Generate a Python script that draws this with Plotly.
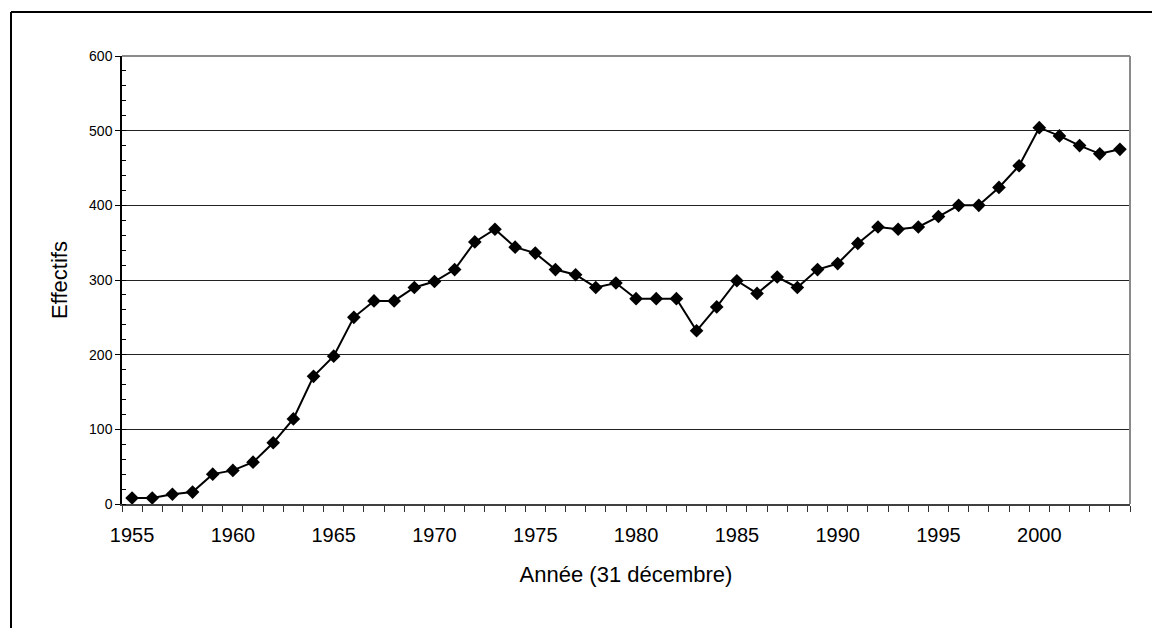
import plotly.graph_objects as go

years = list(range(1955, 2005))
effectifs = [8, 8, 13, 16, 40, 45, 56, 82, 114, 171,
             198, 250, 272, 272, 290, 298, 314, 351, 368, 344,
             336, 314, 307, 290, 296, 275, 275, 275, 232, 264,
             299, 282, 304, 290, 314, 322, 349, 371, 368, 371,
             385, 400, 400, 424, 453, 504, 493, 480, 469, 475]
label_years = [1955, 1960, 1965, 1970, 1975, 1980, 1985, 1990, 1995, 2000]
y_ticks = [0, 100, 200, 300, 400, 500, 600]

# page body has an 8px margin
OFF = 8
W, H = 1152, 620
L, R, T, B = 114, 30, 48, 124
pw, ph = W - L - R, H - T - B

def px(x):
    return (x - OFF - L) / pw

def py(y):
    return (H - B - (y - OFF)) / ph

fig = go.Figure()
fig.add_trace(go.Scatter(
    x=years, y=effectifs, mode="lines+markers",
    line=dict(color="black", width=2),
    marker=dict(symbol="diamond", size=10.5, color="black"),
    showlegend=False, cliponaxis=False,
))

font = "Arial, Liberation Sans, sans-serif"
fig.update_layout(
    width=W, height=H,
    margin=dict(l=L, r=R, t=T, b=B),
    paper_bgcolor="white", plot_bgcolor="white",
    font=dict(family=font, color="black"),
    xaxis=dict(
        range=[1954.5, 2004.5], tickmode="array", tickvals=label_years,
        ticktext=[str(v) for v in label_years],
        ticks="", showgrid=False, zeroline=False,
        showline=True, linecolor="#404040", linewidth=2,
        tickfont=dict(size=20, family=font), ticklabelstandoff=12,
        minor=dict(tick0=1954.5, dtick=1, ticks="outside", ticklen=6,
                   tickcolor="#333333", tickwidth=1, showgrid=False),
        title=dict(text="Année (31 décembre)", font=dict(size=22, family=font), standoff=22),
    ),
    yaxis=dict(
        range=[0, 600], tickmode="array", tickvals=y_ticks,
        ticks="outside", ticklen=5, tickcolor="black",
        showgrid=True, gridcolor="#222222", gridwidth=1, zeroline=False,
        showline=True, linecolor="black", linewidth=1.5,
        tickfont=dict(size=14, family=font),
        minor=dict(dtick=20, ticks="inside", ticklen=4, tickcolor="black", showgrid=False),
        title=dict(text="Effectifs", font=dict(size=22, family=font), standoff=15),
    ),
    shapes=[
        dict(type="line", xref="paper", yref="paper", x0=0, x1=1, y0=1, y1=1,
             line=dict(color="#8a8a8a", width=2)),
        dict(type="line", xref="paper", yref="paper", x0=1, x1=1, y0=0, y1=1,
             line=dict(color="#8a8a8a", width=2)),
        dict(type="line", xref="paper", yref="paper", x0=px(11), x1=px(1175), y0=py(12), y1=py(12),
             line=dict(color="black", width=2)),
        dict(type="line", xref="paper", yref="paper", x0=px(11), x1=px(11), y0=py(12), y1=py(640),
             line=dict(color="black", width=2)),
    ],
)

fig.write_html("out.html")
